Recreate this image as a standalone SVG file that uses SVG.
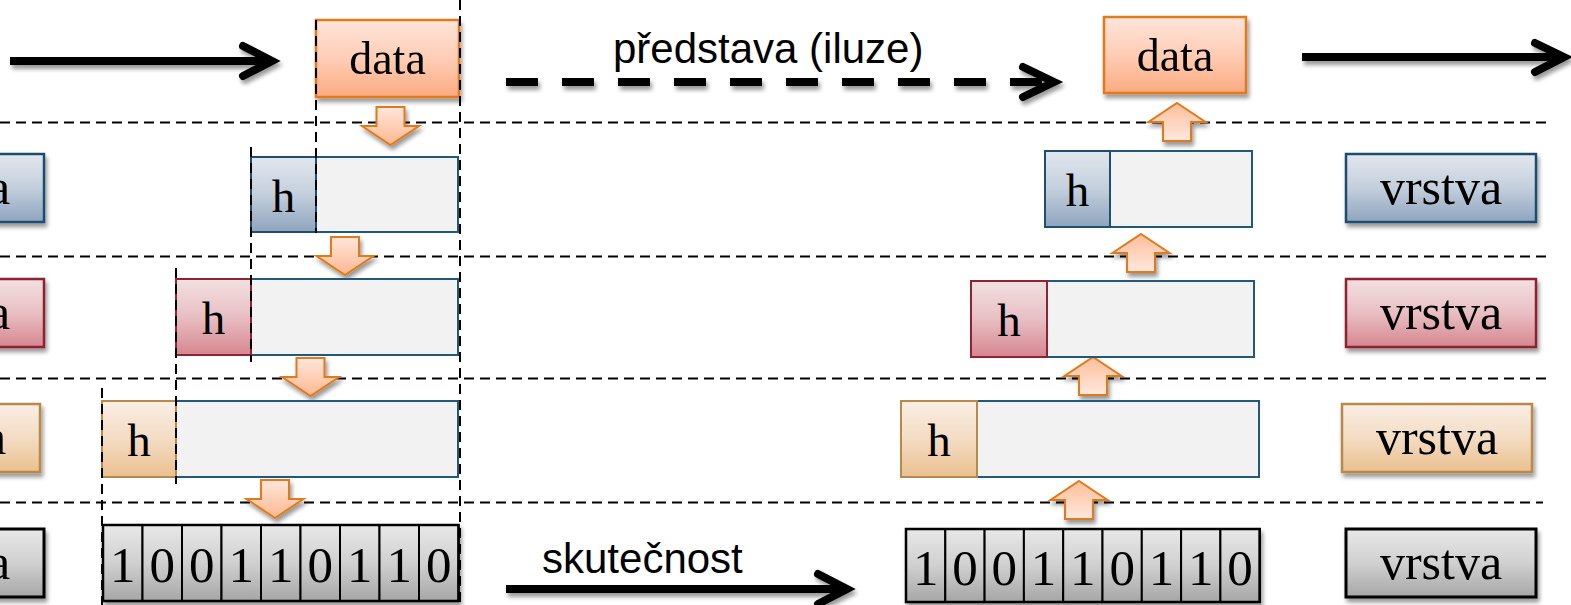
<svg xmlns="http://www.w3.org/2000/svg" width="1571" height="605" viewBox="0 0 1571 605">
  <style>
    .guide { stroke: #000; stroke-width: 2; stroke-dasharray: 10 6; fill: none; }
    .big { stroke: #000; stroke-width: 8; fill: none; }
    .head { stroke: #000; stroke-width: 8; fill: none; stroke-linecap: round; stroke-linejoin: miter; }
    .serif { font-family: "Liberation Serif", "Times New Roman", serif; fill: #000; text-anchor: middle; }
    .sans { font-family: "Liberation Sans", Arial, sans-serif; fill: #000; font-size: 42px; }
    .hl { font-size: 47px; }
    .lbl { font-size: 50px; }
    .dat { font-size: 46px; }
    .bit { font-size: 51px; }
    .payload { fill: #F2F2F2; stroke: #1F5A7C; stroke-width: 2; }
    .hblue { fill: url(#gBlue); stroke: #1F4E6E; stroke-width: 2; }
    .hred { fill: url(#gRed); stroke: #8E2333; stroke-width: 2; }
    .hbeige { fill: url(#gBeige); stroke: #B8894B; stroke-width: 2; }
    .cell { fill: url(#gGray); stroke: #000; stroke-width: 2; }
    .lay-blue { fill: url(#gBlue); stroke: #1F4E6E; stroke-width: 2.5; }
    .lay-red { fill: url(#gRed); stroke: #8E2333; stroke-width: 2.5; }
    .lay-beige { fill: url(#gBeige); stroke: #B8894B; stroke-width: 2.5; }
    .lay-gray { fill: url(#gGray); stroke: #000; stroke-width: 3; }
    .datbox { fill: url(#gOrange); stroke: #E07A1A; stroke-width: 2.5; }
    .blk-down { fill: url(#gArrowDown); stroke: #E07A1A; stroke-width: 2; }
    .blk-up { fill: url(#gArrowUp); stroke: #E07A1A; stroke-width: 2; }
  </style>
  <defs>
    <linearGradient id="gOrange" x1="0" y1="0" x2="0" y2="1">
      <stop offset="0" stop-color="#FFE5DA"/>
      <stop offset="0.5" stop-color="#FECDB5"/>
      <stop offset="1" stop-color="#FBAB80"/>
    </linearGradient>
    <linearGradient id="gArrowDown" x1="0" y1="0" x2="0" y2="1">
      <stop offset="0" stop-color="#FFE6DB"/>
      <stop offset="1" stop-color="#FCB890"/>
    </linearGradient>
    <linearGradient id="gArrowUp" x1="0" y1="0" x2="0" y2="1">
      <stop offset="0" stop-color="#FCBE9A"/>
      <stop offset="1" stop-color="#FFE8DE"/>
    </linearGradient>
    <linearGradient id="gBlue" x1="0" y1="0" x2="0" y2="1">
      <stop offset="0" stop-color="#E2E7EE"/>
      <stop offset="0.5" stop-color="#C3CFDC"/>
      <stop offset="1" stop-color="#8EA4BE"/>
    </linearGradient>
    <linearGradient id="gRed" x1="0" y1="0" x2="0" y2="1">
      <stop offset="0" stop-color="#F2E0E1"/>
      <stop offset="0.5" stop-color="#E8BFC3"/>
      <stop offset="1" stop-color="#D6868F"/>
    </linearGradient>
    <linearGradient id="gBeige" x1="0" y1="0" x2="0" y2="1">
      <stop offset="0" stop-color="#FAEEE4"/>
      <stop offset="0.5" stop-color="#F3DCC3"/>
      <stop offset="1" stop-color="#EAC08F"/>
    </linearGradient>
    <linearGradient id="gGray" x1="0" y1="0" x2="0" y2="1">
      <stop offset="0" stop-color="#E8E8E8"/>
      <stop offset="0.5" stop-color="#D0D0D0"/>
      <stop offset="1" stop-color="#A6A6A6"/>
    </linearGradient>
    <filter id="shadow" filterUnits="userSpaceOnUse" x="-300" y="-50" width="2200" height="720">
      <feGaussianBlur in="SourceAlpha" stdDeviation="2.2"/>
      <feOffset dx="2" dy="4" result="o"/>
      <feComponentTransfer><feFuncA type="linear" slope="0.4"/></feComponentTransfer>
      <feMerge><feMergeNode/><feMergeNode in="SourceGraphic"/></feMerge>
    </filter>
    <path id="arrDown" d="M -14 0 H 14 V 19 H 28.5 L 0 38 L -28.5 19 H -14 Z"/>
    <path id="arrUp" d="M 0 0 L 28.5 19 H 14 V 38 H -14 V 19 H -28.5 Z"/>
  </defs>

  <rect width="1571" height="605" fill="#FFFFFF"/>

  <!-- layer boundaries -->
  <g id="layer-lines">
    <line class="guide" x1="0" y1="122.5" x2="1548" y2="122.5"/>
    <line class="guide" x1="0" y1="256.5" x2="1550" y2="256.5"/>
    <line class="guide" x1="0" y1="378.5" x2="1552" y2="378.5"/>
    <line class="guide" x1="0" y1="502.5" x2="1543" y2="502.5"/>
  </g>

  <!-- flow arrows -->
  <g id="connectors" filter="url(#shadow)">
    <path class="big" d="M10 61 H266"/>
    <path class="head" d="M243 46 L272 61 L243 76"/>
    <path class="big" d="M506 82 H1048" stroke-dasharray="32 24"/>
    <path class="head" d="M1023 67 L1054 82 L1023 97"/>
    <path class="big" d="M1302 57 H1558"/>
    <path class="head" d="M1535 43 L1564 57 L1535 72"/>
    <path class="big" d="M506 589 H841"/>
    <path class="head" d="M818 574 L847 589 L818 604"/>
    <use href="#arrDown" class="blk-down" x="390.5" y="107"/>
    <use href="#arrDown" class="blk-down" x="345" y="237"/>
    <use href="#arrDown" class="blk-down" x="310.5" y="358"/>
    <use href="#arrDown" class="blk-down" x="275" y="480"/>
    <use href="#arrUp" class="blk-up" x="1177" y="103"/>
    <use href="#arrUp" class="blk-up" x="1141" y="234"/>
    <use href="#arrUp" class="blk-up" x="1093" y="357"/>
    <use href="#arrUp" class="blk-up" x="1079" y="481"/>
  </g>

  <g id="label-iluze">
    <text class="sans" x="613" y="63">představa (iluze)</text>
  </g>
  <g id="label-skutecnost">
    <text class="sans" x="542" y="573">skutečnost</text>
  </g>

  <!-- sender side -->
  <g id="data-send" filter="url(#shadow)">
    <rect class="datbox" x="316" y="20" width="143" height="77"/>
    <text class="serif dat" x="387.5" y="74">data</text>
  </g>
  <g id="packet-send-blue">
    <rect class="payload" x="251" y="157" width="207" height="75"/>
    <rect class="hblue" x="251" y="157" width="65" height="75"/>
    <text class="serif hl" x="283.5" y="212">h</text>
  </g>
  <g id="packet-send-red">
    <rect class="payload" x="176" y="279" width="282" height="76"/>
    <rect class="hred" x="176" y="279" width="75" height="76"/>
    <text class="serif hl" x="213.5" y="334">h</text>
  </g>
  <g id="packet-send-beige">
    <rect class="payload" x="102" y="401" width="356" height="76"/>
    <rect class="hbeige" x="102" y="401" width="74" height="76"/>
    <text class="serif hl" x="139" y="456">h</text>
  </g>
  <g id="bits-send" filter="url(#shadow)">
    <rect class="cell" x="103" y="525" width="39.5" height="76"/>
    <rect class="cell" x="142.5" y="525" width="39.5" height="76"/>
    <rect class="cell" x="182" y="525" width="39.5" height="76"/>
    <rect class="cell" x="221.5" y="525" width="39.5" height="76"/>
    <rect class="cell" x="261" y="525" width="39.5" height="76"/>
    <rect class="cell" x="300.5" y="525" width="39.5" height="76"/>
    <rect class="cell" x="340" y="525" width="39.5" height="76"/>
    <rect class="cell" x="379.5" y="525" width="39.5" height="76"/>
    <rect class="cell" x="419" y="525" width="39.5" height="76"/>
    <rect x="103" y="525" width="355.5" height="76" fill="none" stroke="#000" stroke-width="2.5"/>
    <text class="serif bit" x="122.75" y="582">1</text>
    <text class="serif bit" x="162.25" y="582">0</text>
    <text class="serif bit" x="201.75" y="582">0</text>
    <text class="serif bit" x="241.25" y="582">1</text>
    <text class="serif bit" x="280.75" y="582">1</text>
    <text class="serif bit" x="320.25" y="582">0</text>
    <text class="serif bit" x="359.75" y="582">1</text>
    <text class="serif bit" x="399.25" y="582">1</text>
    <text class="serif bit" x="438.75" y="582">0</text>
  </g>

  <!-- left layer labels, running off the edge -->
  <g id="layer-left-blue" filter="url(#shadow)">
    <rect class="lay-blue" x="-146" y="154" width="190" height="68"/>
    <text class="serif lbl" x="-51" y="204">vrstva</text>
  </g>
  <g id="layer-left-red" filter="url(#shadow)">
    <rect class="lay-red" x="-146" y="279" width="190" height="68"/>
    <text class="serif lbl" x="-51" y="329">vrstva</text>
  </g>
  <g id="layer-left-beige" filter="url(#shadow)">
    <rect class="lay-beige" x="-150" y="404" width="190" height="68"/>
    <text class="serif lbl" x="-55" y="454">vrstva</text>
  </g>
  <g id="layer-left-gray" filter="url(#shadow)">
    <rect class="lay-gray" x="-146" y="529" width="190" height="68"/>
    <text class="serif lbl" x="-51" y="579">vrstva</text>
  </g>

  <!-- encapsulation guides -->
  <g id="guides">
    <line class="guide" x1="316" y1="20" x2="316" y2="233"/>
    <line class="guide" x1="460" y1="0" x2="460" y2="605"/>
    <line class="guide" x1="251" y1="147" x2="251" y2="362"/>
    <line class="guide" x1="176" y1="268" x2="176" y2="484"/>
    <line class="guide" x1="102" y1="388" x2="102" y2="605"/>
  </g>

  <!-- receiver side -->
  <g id="data-recv" filter="url(#shadow)">
    <rect class="datbox" x="1104" y="17" width="142" height="76"/>
    <text class="serif dat" x="1175" y="71">data</text>
  </g>
  <g id="packet-recv-blue">
    <rect class="payload" x="1045" y="151" width="207" height="76"/>
    <rect class="hblue" x="1045" y="151" width="65" height="76"/>
    <text class="serif hl" x="1077.5" y="206">h</text>
  </g>
  <g id="packet-recv-red">
    <rect class="payload" x="971" y="281" width="283" height="76"/>
    <rect class="hred" x="971" y="281" width="76" height="76"/>
    <text class="serif hl" x="1009" y="336">h</text>
  </g>
  <g id="packet-recv-beige">
    <rect class="payload" x="901" y="401" width="358" height="76"/>
    <rect class="hbeige" x="901" y="401" width="76" height="76"/>
    <text class="serif hl" x="939" y="456">h</text>
  </g>
  <g id="bits-recv" filter="url(#shadow)">
    <rect class="cell" x="906" y="529" width="39.3" height="73"/>
    <rect class="cell" x="945.3" y="529" width="39.3" height="73"/>
    <rect class="cell" x="984.6" y="529" width="39.3" height="73"/>
    <rect class="cell" x="1023.9" y="529" width="39.3" height="73"/>
    <rect class="cell" x="1063.2" y="529" width="39.3" height="73"/>
    <rect class="cell" x="1102.5" y="529" width="39.3" height="73"/>
    <rect class="cell" x="1141.8" y="529" width="39.3" height="73"/>
    <rect class="cell" x="1181.1" y="529" width="39.3" height="73"/>
    <rect class="cell" x="1220.4" y="529" width="39.3" height="73"/>
    <rect x="906" y="529" width="353.7" height="73" fill="none" stroke="#000" stroke-width="2.5"/>
    <text class="serif bit" x="925.65" y="585">1</text>
    <text class="serif bit" x="964.95" y="585">0</text>
    <text class="serif bit" x="1004.25" y="585">0</text>
    <text class="serif bit" x="1043.55" y="585">1</text>
    <text class="serif bit" x="1082.85" y="585">1</text>
    <text class="serif bit" x="1122.15" y="585">0</text>
    <text class="serif bit" x="1161.45" y="585">1</text>
    <text class="serif bit" x="1200.75" y="585">1</text>
    <text class="serif bit" x="1240.05" y="585">0</text>
  </g>

  <!-- right layer labels -->
  <g id="layer-right-blue" filter="url(#shadow)">
    <rect class="lay-blue" x="1346" y="154" width="190" height="68"/>
    <text class="serif lbl" x="1441" y="204">vrstva</text>
  </g>
  <g id="layer-right-red" filter="url(#shadow)">
    <rect class="lay-red" x="1346" y="279" width="190" height="68"/>
    <text class="serif lbl" x="1441" y="329">vrstva</text>
  </g>
  <g id="layer-right-beige" filter="url(#shadow)">
    <rect class="lay-beige" x="1342" y="404" width="190" height="68"/>
    <text class="serif lbl" x="1437" y="454">vrstva</text>
  </g>
  <g id="layer-right-gray" filter="url(#shadow)">
    <rect class="lay-gray" x="1346" y="529" width="190" height="68"/>
    <text class="serif lbl" x="1441" y="579">vrstva</text>
  </g>
</svg>
